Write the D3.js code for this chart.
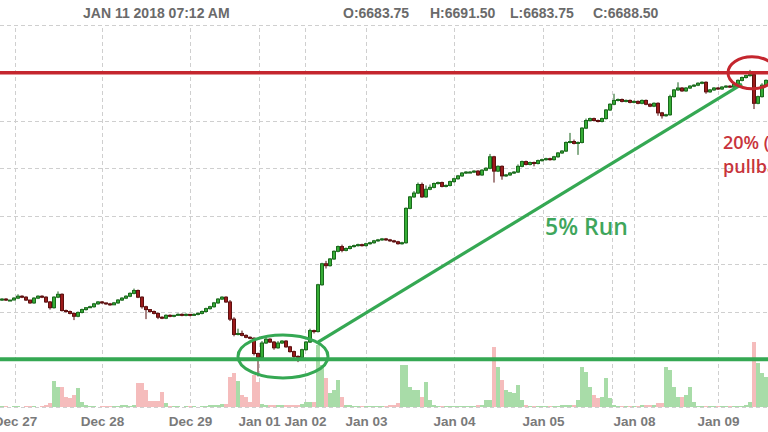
<!DOCTYPE html>
<html><head><meta charset="utf-8">
<script src="https://cdn.jsdelivr.net/npm/d3@7"></script>
<style>html,body{margin:0;padding:0;background:#fff;overflow:hidden}</style>
</head><body>
<svg id="chart" width="768" height="432"></svg>
<script>
// ---------- data ----------
const headerDate = "JAN 11 2018 07:12 AM";
const ohlcLabels = ["O:6683.75", "H:6691.50", "L:6683.75", "C:6688.50"];
const tickLabels = ["Dec 27","Dec 28","Dec 29","Jan 01","Jan 02","Jan 03","Jan 04","Jan 05","","Jan 08","Jan 09"];
const tickPositions = [3.75, 25.5, 47.5, 64.75, 76.25, 91.5, 113.5, 135.75, 153, 158.5, 179.5];
const priceGrid = [6350, 6400, 6450, 6500, 6550, 6600, 6650, 6700, 6750];
const firstOpen = 6462;
const closes = [
 6463,6462,6462,6464,6466,6465,6462,6459,6464,6466,
 6465,6460,6454,6465,6468,6451,6450,6448,6445,6449,
 6452,6454,6455,6458,6460,6459,6458,6457,6459,6462,
 6464,6466,6469,6472,6465,6455,6452,6450,6448,6444,
 6443,6446,6445,6446,6447,6446,6447,6446,6447,6448,
 6450,6453,6455,6459,6463,6465,6460,6442,6426,6427,
 6425,6423,6422,6406,6402,6417,6421,6418,6412,6417,
 6419,6413,6408,6403,6402,6410,6418,6430,6429,6478,
 6500,6498,6505,6513,6518,6514,6516,6518,6519,6520,
 6519,6521,6522,6524,6525,6526,6525,6524,6523,6521,
 6522,6558,6570,6574,6583,6570,6578,6580,6584,6585,
 6581,6582,6586,6589,6592,6595,6596,6596,6597,6593,
 6598,6600,6612,6597,6602,6592,6593,6595,6596,6602,
 6607,6604,6606,6605,6608,6609,6610,6609,6612,6616,
 6618,6627,6628,6626,6627,6642,6650,6652,6650,6649,
 6652,6661,6667,6671,6672,6670,6671,6669,6670,6668,
 6671,6667,6665,6668,6658,6655,6656,6675,6682,6684,
 6681,6684,6686,6687,6689,6690,6680,6682,6684,6683,
 6685,6686,6685,6688,6692,6695,6697,6698,6668,6675,
 6687,6692];
const wickUp = [
 1,1,0,1,2,1,1,0,1,1, 1,1,1,1,3,1,1,1,1,1, 1,0,1,1,1,1,0,1,1,1, 1,1,1,2,1,1,1,0,1,1,
 1,1,1,0,1,1,1,0,1,1, 1,1,1,1,1,1,1,2,2,5, 3,1,1,1,1,2,3,1,1,2, 1,1,1,1,1,1,1,2,1,1,
 1,3,1,1,1,2,1,1,1,1, 1,1,1,1,1,1,1,1,1,1, 1,1,1,2,2,2,4,3,1,1, 1,1,1,1,1,1,1,1,1,1,
 1,1,3,1,1,1,1,1,1,2, 1,1,1,1,1,1,1,1,1,1, 1,1,9,2,1,1,2,1,1,1, 1,1,1,7,1,1,1,1,1,1,
 1,1,1,1,1,1,1,2,1,6, 1,1,1,1,1,1,1,1,1,1, 1,1,1,1,1,1,1,5,2,1, 2,1];
const wickDown = [
 1,1,1,0,1,1,1,1,1,1, 1,1,2,1,1,1,1,1,4,1, 1,1,0,1,1,1,1,1,0,1, 1,1,1,1,1,2,10,1,1,2,
 1,1,1,1,0,1,1,1,0,1, 1,1,1,1,1,1,1,2,2,1, 1,1,1,2,20,1,1,1,2,1, 1,1,1,3,5,1,1,1,2,1,
 1,3,1,1,1,2,1,1,1,1, 1,1,1,1,1,1,1,1,1,1, 1,1,1,1,1,1,1,1,1,1, 1,1,1,1,1,1,1,1,1,1,
 1,1,1,12,1,4,1,1,1,1, 1,1,1,3,1,1,1,1,1,1, 1,1,1,1,12,1,1,1,1,1, 1,1,1,1,1,1,1,1,1,1,
 1,1,1,1,3,3,1,1,1,1, 1,1,1,1,1,1,2,1,1,1, 1,1,1,1,1,1,1,1,6,1, 1,1];
const volumes = [
 1,1,0,1,1,0,1,1,1,0,1,
 2,4,26,20,20,10,9,12,19,5,2,
 1,1,0,1,1,1,1,1,
 2,2,1,2,
 24,24,17,6,6,6,15,4,
 1,1,1,0,1,1,1,0,1,1,
 2,2,2,3,3,
 30,34,26,12,10,5,32,25,
 3,2,2,2,2,2,2,2,2,2,3,
 5,5,5,62,42,29,14,17,27,10,
 2,2,1,1,1,1,1,1,1,1,1,2,2,
 4,42,42,20,17,17,10,25,7,
 2,1,1,1,1,1,1,1,1,1,1,2,2,
 7,7,60,40,27,17,15,14,22,7,
 2,1,1,1,1,1,1,1,1,2,2,2,2,
 7,40,35,20,12,9,10,29,9,
 2,1,1,1,1,1,1,2,2,2,2,
 4,4,40,37,20,10,10,12,20,5,
 1,1,1,1,1,1,1,1,1,1,1,1,2,
 5,65,44,34,30];
const resistanceLevel = 6700;
const supportLevel = 6400;
const trendLine = [[79.5, 6418], [185.5, 6688]];
const runLabel = "5% Run";
const pullbackLabel = ["20% (1%)", "pullback"];

// ---------- build ----------
const W = 768, H = 432;
const svg = d3.select("#chart");
const N = closes.length;
const candles = closes.map((c, i) => {
  const o = i === 0 ? firstOpen : closes[i - 1];
  return { i, o, c, h: Math.max(o, c) + wickUp[i], l: Math.min(o, c) - wickDown[i], v: volumes[i] };
});

const x = d3.scaleLinear().domain([0, N]).range([0, W]);
const y = d3.scaleLinear().domain([6350, 6750]).range([407, 25]);
const yv = d3.scaleLinear().domain([0, 100]).range([407, 307]);

// grid
const grid = svg.append("g").attr("stroke", "#cfcfcf").attr("stroke-width", 1).attr("stroke-dasharray", "4,3");
grid.selectAll("line.h").data(priceGrid).join("line").attr("class", "h")
  .attr("x1", 0).attr("x2", W)
  .attr("y1", d => Math.round(y(d)) + 0.5).attr("y2", d => Math.round(y(d)) + 0.5);
grid.selectAll("line.v").data(tickPositions).join("line").attr("class", "v")
  .attr("x1", d => Math.round(x(d)) + 0.5).attr("x2", d => Math.round(x(d)) + 0.5)
  .attr("y1", 28).attr("y2", 407);

// volume
svg.append("g").selectAll("rect").data(candles).join("rect")
  .attr("x", d => x(d.i)).attr("width", x(1) - x(0))
  .attr("y", d => yv(d.v)).attr("height", d => yv(0) - yv(d.v))
  .attr("fill", d => d.c >= d.o ? "#a8dca8" : "#f5bcbc");

// candles
const cg = svg.append("g");
cg.selectAll("line").data(candles).join("line")
  .attr("x1", d => x(d.i + 0.5)).attr("x2", d => x(d.i + 0.5))
  .attr("y1", d => y(d.h)).attr("y2", d => y(d.l))
  .attr("stroke", d => d.c >= d.o ? "#17601a" : "#540d0d").attr("stroke-width", 1);
cg.selectAll("rect").data(candles).join("rect")
  .attr("x", d => x(d.i) + 0.5).attr("width", x(1) - x(0) - 1)
  .attr("y", d => y(Math.max(d.o, d.c)))
  .attr("height", d => Math.max(1, y(Math.min(d.o, d.c)) - y(Math.max(d.o, d.c))))
  .attr("fill", d => d.c >= d.o ? "#36ad36" : "#9c1b1b")
  .attr("stroke", d => d.c >= d.o ? "#1a6a1c" : "#5e1010").attr("stroke-width", 1);

// x axis labels
const axis = d3.axisBottom(x).tickValues(tickPositions).tickFormat((d, i) => tickLabels[i]).tickSize(0).tickPadding(0);
const ag = svg.append("g").attr("transform", "translate(0,416)").call(axis);
ag.select(".domain").remove();
ag.selectAll("text").attr("fill", "#7a7a7a").attr("font-family", "'Liberation Sans', Arial, sans-serif")
  .attr("font-weight", "bold").attr("font-size", "13.5px").attr("dy", "0.72em");

// header
const hf = "'Liberation Sans', Arial, sans-serif";
svg.append("text").attr("x", 83).attr("y", 18).text(headerDate)
  .attr("font-family", hf).attr("font-weight", "bold").attr("font-size", "14px").attr("fill", "#6a6a6a");
const hx = [343, 430, 510, 593];
svg.selectAll("text.ohlc").data(ohlcLabels).join("text").attr("class", "ohlc")
  .attr("x", (d, i) => hx[i]).attr("y", 18).text(d => d)
  .attr("font-family", hf).attr("font-weight", "bold").attr("font-size", "14px").attr("fill", "#6a6a6a");

// annotations
const red = "#c4262e", green = "#35a853";
const an = svg.append("g").attr("fill", "none");
an.append("line").attr("x1", 0).attr("x2", W).attr("y1", y(resistanceLevel)).attr("y2", y(resistanceLevel))
  .attr("stroke", red).attr("stroke-width", 3.5);
an.append("line").attr("x1", 0).attr("x2", W).attr("y1", y(supportLevel)).attr("y2", y(supportLevel))
  .attr("stroke", green).attr("stroke-width", 4);
an.append("line").attr("x1", x(trendLine[0][0])).attr("y1", y(trendLine[0][1]))
  .attr("x2", x(trendLine[1][0])).attr("y2", y(trendLine[1][1]))
  .attr("stroke", green).attr("stroke-width", 3.2);
an.append("ellipse").attr("cx", x(70.75)).attr("cy", y(6403)).attr("rx", 45).attr("ry", 21.5)
  .attr("stroke", green).attr("stroke-width", 3);
an.append("ellipse").attr("cx", x(188)).attr("cy", y(resistanceLevel)).attr("rx", 24).attr("ry", 16)
  .attr("stroke", red).attr("stroke-width", 3);

const af = "'Open Sans', 'Noto Sans', sans-serif";
svg.append("text").attr("x", x(136.25)).attr("y", 235).text(runLabel)
  .attr("font-family", af).attr("font-weight", 600).attr("font-size", "23px").attr("fill", "#3fa65c");
svg.selectAll("text.pb").data(pullbackLabel).join("text").attr("class", "pb")
  .attr("x", x(180.75)).attr("y", (d, i) => 149 + i * 24).text(d => d)
  .attr("font-family", af).attr("font-weight", 600).attr("font-size", "18px").attr("fill", "#c8343c");
</script>
</body></html>
